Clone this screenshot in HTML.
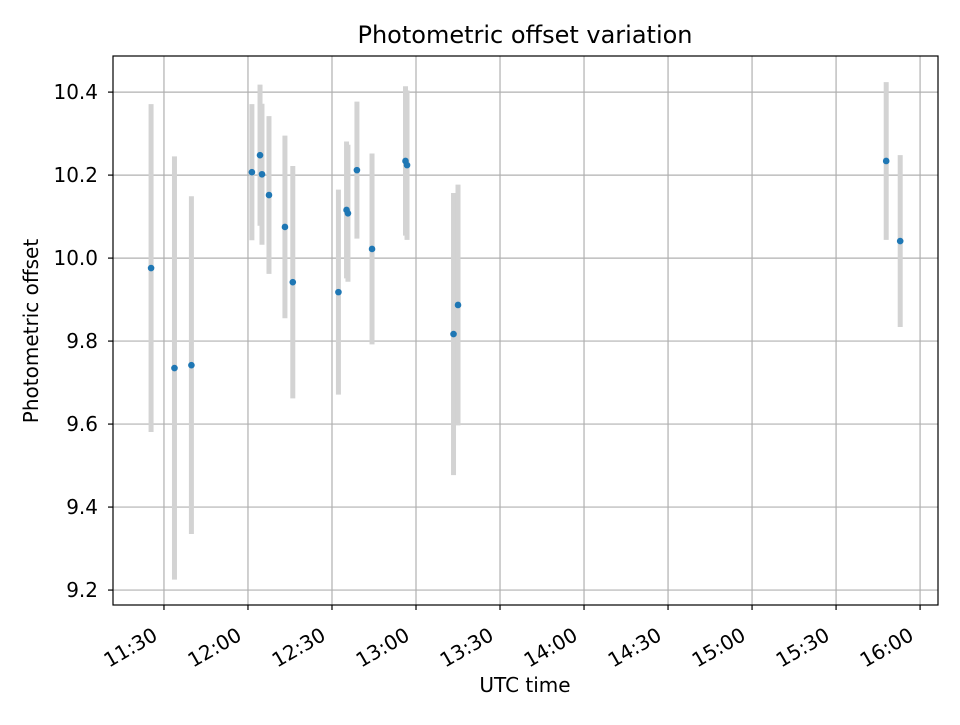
<!DOCTYPE html>
<html><head><meta charset="utf-8"><style>
body{margin:0;background:#fff;font-family:"Liberation Sans","DejaVu Sans",sans-serif}
svg text{font-family:"DejaVu Sans","Liberation Sans",sans-serif;fill:#000}
</style></head><body>
<svg id="chart" width="960" height="720" xmlns="http://www.w3.org/2000/svg">
<rect width="960" height="720" fill="#fff"/>
<g id="grid"></g><g id="bars"></g><g id="pts"></g><g id="axes"></g>
<text x="525" y="43" font-size="24" text-anchor="middle">Photometric offset variation</text>
<text x="525" y="692" font-size="20" text-anchor="middle">UTC time</text>
<text transform="translate(38,331) rotate(-90)" font-size="20" text-anchor="middle">Photometric offset</text>
</svg>
<script>
// minutes after 11:00 UTC
const times=[25.4,33.75,39.8,61.4,64.3,65,67.5,73.2,76,92.3,95.2,95.7,98.9,104.3,116.25,116.8,133.4,135,287.9,292.9];
const offsets=[9.976,9.735,9.742,10.207,10.248,10.202,10.152,10.075,9.942,9.918,10.116,10.108,10.212,10.022,10.234,10.224,9.817,9.887,10.234,10.041];
const errors=[0.395,0.51,0.407,0.164,0.17,0.17,0.19,0.22,0.28,0.247,0.165,0.165,0.165,0.23,0.18,0.18,0.34,0.29,0.19,0.207];
const xTickMins=[30,60,90,120,150,180,210,240,270,300];
const xTickLabels=["11:30","12:00","12:30","13:00","13:30","14:00","14:30","15:00","15:30","16:00"];
const yTicks=[9.2,9.4,9.6,9.8,10.0,10.2,10.4];
const L=113,R=938,T=56,B=605;
const xMin=11.8,xMax=306.4,yMin=9.164,yMax=10.487;
const X=m=>L+(m-xMin)/(xMax-xMin)*(R-L);
const Y=v=>B-(v-yMin)/(yMax-yMin)*(B-T);
const NS="http://www.w3.org/2000/svg";
function mk(tag,parent,attrs){const e=document.createElementNS(NS,tag);for(const k in attrs)e.setAttribute(k,attrs[k]);document.getElementById(parent).appendChild(e);return e;}
xTickMins.forEach((m,i)=>{
  const x=X(m);
  const g=mk("line","grid",{x1:x,x2:x,y1:T,y2:B,stroke:"#b0b0b0","stroke-width":1.2});
  
  
  const t=mk("line","axes",{x1:x,x2:x,y1:B,y2:B+5,stroke:"#000","stroke-width":1.2});
  
  
  const ax=x-5,ay=B+34;
  const tx=mk("text","axes",{x:ax,y:ay,"font-size":20,"text-anchor":"end",transform:`rotate(-30 ${ax} ${ay})`});
  tx.textContent=xTickLabels[i];
  
  
});
yTicks.forEach(v=>{
  const y=Y(v);
  const g=mk("line","grid",{x1:L,x2:R,y1:y,y2:y,stroke:"#b0b0b0","stroke-width":1.2});
  
  
  const t=mk("line","axes",{x1:L-5,x2:L,y1:y,y2:y,stroke:"#000","stroke-width":1.2});
  
  
  const tx=mk("text","axes",{x:L-15,y:y+7,"font-size":20,"text-anchor":"end"});
  tx.textContent=v.toFixed(1);
  
  
});
times.forEach((m,i)=>{
  const x=X(m);
  const b=mk("line","bars",{x1:x,x2:x,y1:Y(offsets[i]+errors[i]),y2:Y(offsets[i]-errors[i]),stroke:"#d3d3d3","stroke-width":5});
  
  
  const c=mk("circle","pts",{cx:x,cy:Y(offsets[i]),r:3.3,fill:"#1f77b4"});
  
  
});
const fr=mk("rect","axes",{x:L,y:T,width:R-L,height:B-T,fill:"none",stroke:"#000","stroke-width":1.2});


</script>
</body></html>
